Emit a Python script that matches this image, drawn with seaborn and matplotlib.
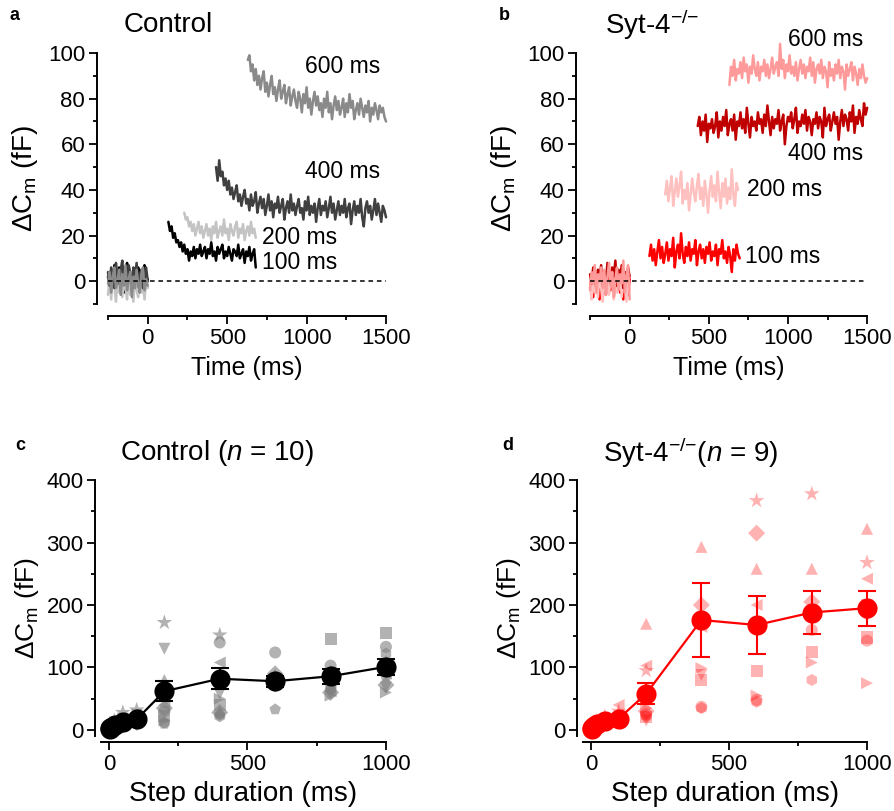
import numpy as np
import pandas as pd
import matplotlib.pyplot as plt
import seaborn as sns
from matplotlib.ticker import MultipleLocator

sns.set_style('ticks')
plt.rcParams['font.family'] = ['Liberation Sans', 'DejaVu Sans']
plt.rcParams['mathtext.fontset'] = 'custom'
plt.rcParams['mathtext.rm'] = 'Liberation Sans'
plt.rcParams['mathtext.it'] = 'Liberation Sans:italic'
plt.rcParams['mathtext.bf'] = 'Liberation Sans:bold'
for k in ['text.color', 'axes.labelcolor', 'xtick.color', 'ytick.color', 'axes.edgecolor']:
    plt.rcParams[k] = 'black'

# --- capacitance traces (fF), one sample every 10 ms ---
step_ms = 10
base_start = -250

ctrl_base = {
    '100 ms': [2, -3, 5, -1, 7, -4, 1, 6, -2, 3, -5, 4, 8, -1, 2, -6, 5, 0, -3, 6, 1, -4, 3, 7, -2, 1],
    '200 ms': [-6, 2, -8, 3, -2, -9, 1, -5, 4, -7, 0, -3, -8, 2, -6, -1, -9, 3, -4, -7, 1, -5, -2, -8, 0, -3],
    '400 ms': [4, -2, 6, 1, -3, 8, 2, -1, 5, 9, 0, 3, -2, 7, 4, -4, 6, 1, 8, -1, 3, 5, -3, 2, 6, 0],
    '600 ms': [-1, 4, -5, 2, 6, -3, 0, 5, -6, 3, -2, 7, -4, 1, 4, -7, 2, -3, 5, -1, -5, 3, 6, -4, 1, -2],
}
ctrl_start = {'100 ms': 130, '200 ms': 230, '400 ms': 430, '600 ms': 630}
ctrl_trace = {
    '100 ms': [26, 22, 24, 19, 21, 17, 18, 15, 17, 13, 16, 12, 14, 9, 13, 11, 15, 10, 14, 12, 16, 11, 13, 15,
               10, 14, 12, 17, 11, 13, 9, 15, 12, 14, 16, 10, 13, 11, 15, 12, 9, 14, 13, 11, 16, 10, 12, 14,
               8, 13, 11, 15, 9, 12, 14, 6],
    '200 ms': [30, 27, 28, 24, 26, 22, 25, 20, 23, 26, 21, 24, 19, 22, 25, 20, 23, 18, 24, 21, 26, 19, 22, 24,
               20, 27, 21, 23, 18, 25, 22, 20, 24, 26, 19, 23, 21, 25, 18, 22, 24, 20, 26, 21, 23, 19],
    '400 ms': [50, 44, 53, 46, 48, 42, 45, 40, 44, 38, 41, 36, 39, 42, 35, 38, 33, 37, 40, 34, 36, 31, 38, 33,
               35, 39, 30, 34, 37, 32, 36, 29, 33, 38, 31, 35, 28, 34, 32, 37, 30, 33, 36, 27, 32, 35, 30, 38,
               31, 34, 29, 33, 36, 30, 32, 27, 35, 31, 37, 29, 33, 30, 34, 26, 32, 36, 29, 33, 31, 35, 28, 32,
               37, 30, 34, 27, 31, 35, 29, 33, 30, 36, 28, 32, 34, 25, 31, 35, 29, 33, 30, 36, 28, 24, 32, 35,
               30, 33, 27, 31, 36, 29, 34, 30, 26, 33, 31, 28],
    '600 ms': [97, 99, 92, 95, 88, 93, 86, 90, 84, 89, 92, 83, 87, 81, 86, 90, 82, 85, 79, 84, 88, 80, 83, 86,
               78, 82, 85, 77, 81, 84, 79, 76, 83, 80, 74, 82, 78, 85, 76, 80, 73, 79, 83, 77, 81, 75, 78, 72,
               80, 76, 83, 74, 78, 71, 77, 81, 75, 79, 73, 76, 80, 72, 78, 74, 82, 76, 79, 71, 75, 78, 73, 80,
               76, 72, 77, 74, 79, 70, 76, 73, 78, 75, 71, 77, 74, 76, 72, 70],
}
ctrl_colors = {'100 ms': '#000000', '200 ms': '#c4c4c4', '400 ms': '#404040', '600 ms': '#8a8a8a'}

syt_base = {
    '100 ms': [-3, 2, -7, 1, -5, 4, -8, 0, -2, 3, -6, -1, 5, -4, 2, -7, 1, -3, 4, -5, 0, -8, 2, -2, -6, 1],
    '200 ms': [-2, -8, 3, -5, 1, -7, 4, -3, -9, 2, -4, 0, -6, 3, -1, -8, 2, -5, -3, 4, -7, 1, -2, -9, 3, -4],
    '400 ms': [3, -1, 6, 2, -3, 5, 1, 7, -2, 4, 0, 8, 3, -1, 6, 2, 9, -2, 5, 1, 7, -3, 4, 0, 6, 2],
    '600 ms': [-4, 4, -1, 7, -5, 3, 0, 6, -3, 5, -6, 2, 8, -2, 4, -7, 1, 6, -4, 3, -1, 9, -5, 2, 7, -8],
}
syt_start = {'100 ms': 125, '200 ms': 225, '400 ms': 430, '600 ms': 630}
syt_trace = {
    '100 ms': [11, 16, 9, 14, 7, 13, 18, 10, 15, 8, 12, 17, 9, 14, 11, 19, 6, 13, 16, 10, 21, 12, 8, 15, 11,
               17, 9, 14, 12, 18, 7, 13, 16, 10, 14, 8, 15, 12, 17, 9, 13, 11, 16, 7, 14, 12, 18, 10, 13, 8,
               15, 11, 4, 14, 9, 16, 12, 10],
    '200 ms': [38, 44, 35, 41, 46, 33, 39, 45, 37, 42, 48, 34, 40, 36, 43, 31, 38, 45, 39, 35, 42, 47, 36, 41,
               33, 44, 38, 30, 40, 46, 37, 42, 35, 48, 39, 32, 43, 37, 45, 34, 41, 36, 49, 38, 33, 43, 40],
    '400 ms': [68, 72, 64, 70, 66, 73, 61, 69, 67, 71, 65, 68, 74, 63, 70, 66, 72, 68, 75, 64, 69, 71, 66, 73,
               62, 70, 68, 74, 67, 71, 65, 76, 69, 63, 72, 68, 70, 66, 74, 69, 71, 65, 73, 68, 77, 70, 64, 72,
               67, 71, 69, 75, 66, 70, 73, 60, 68, 72, 70, 74, 67, 71, 76, 65, 70, 68, 73, 69, 75, 66, 72, 70,
               64, 71, 69, 74, 67, 72, 70, 63, 76, 68, 71, 73, 66, 70, 74, 69, 72, 62, 70, 75, 68, 73, 71, 66,
               74, 70, 77, 65, 72, 69, 75, 71, 68, 78, 73, 76],
    '600 ms': [86, 94, 90, 97, 88, 93, 91, 96, 89, 98, 92, 95, 87, 94, 91, 99, 93, 90, 96, 88, 94, 92, 97, 90,
               95, 89, 93, 98, 91, 94, 96, 90, 104, 93, 97, 89, 95, 92, 99, 91, 94, 90, 96, 88, 93, 97, 91, 95,
               89, 94, 92, 98, 90, 96, 87, 93, 95, 91, 97, 89, 94, 92, 85, 96, 90, 93, 88, 95, 91, 97, 89, 94,
               92, 84, 95, 90, 93, 96, 88, 94, 91, 86, 93, 89, 95, 90, 87, 89],
}
syt_colors = {'100 ms': '#ff0000', '200 ms': '#ffc0c0', '400 ms': '#c00000', '600 ms': '#ff9a9a'}

ctrl_label_pos = {'600 ms': (990, 94), '400 ms': (990, 48), '200 ms': (722, 19), '100 ms': (722, 8)}
syt_label_pos = {'600 ms': (998, 106), '400 ms': (998, 56), '200 ms': (742, 40), '100 ms': (730, 11)}

# --- step duration summary (fF) ---
durations = [2, 5, 10, 20, 50, 100, 200, 400, 600, 800, 1000]

ctrl_cells = {
    'o': [1, 3, 5, 9, 14, 18, 30, 140, 124, 103, 133],
    's': [0, 2, 4, 6, 10, 15, 22, 40, 80, 146, 155],
    '^': [2, 4, 7, 10, 16, 22, 80, 30, 88, 95, 110],
    'v': [1, 3, 6, 12, 18, 24, 130, 58, 72, 58, 68],
    'D': [0, 2, 3, 5, 8, 12, 35, 28, 90, 60, 72],
    '<': [1, 2, 5, 8, 12, 20, 40, 108, 82, 62, 90],
    '>': [0, 1, 3, 6, 9, 14, 15, 50, 75, 55, 60],
    'h': [1, 2, 4, 7, 11, 16, 12, 22, 70, 65, 122],
    '*': [2, 5, 9, 15, 28, 32, 172, 152, 85, 90, 100],
    'p': [0, 1, 2, 4, 6, 10, 10, 25, 33, 70, 85],
}
ctrl_mean = [1, 3, 5, 8, 12, 17, 62, 82, 78, 86, 101]
ctrl_sem = [0.5, 0.5, 1, 1.5, 2, 3, 16, 17, 9, 12, 13]

syt_cells = {
    'o': [1, 3, 6, 10, 14, 20, 25, 37, 48, 160, 143],
    's': [0, 2, 4, 7, 11, 16, 20, 80, 95, 125, 148],
    '^': [2, 5, 8, 13, 20, 25, 170, 293, 258, 258, 322],
    'v': [1, 3, 5, 9, 15, 18, 15, 88, 170, 175, 200],
    'D': [0, 2, 4, 8, 12, 22, 30, 200, 315, 205, 190],
    '<': [2, 4, 7, 12, 18, 40, 103, 165, 200, 190, 242],
    '>': [1, 2, 3, 6, 10, 12, 35, 99, 55, 108, 75],
    'h': [0, 1, 3, 5, 9, 14, 22, 35, 45, 80, 185],
    '*': [2, 4, 8, 14, 22, 30, 95, 180, 367, 378, 268],
}
syt_mean = [1, 3, 6, 10, 15, 18, 58, 176, 168, 188, 195]
syt_sem = [0.5, 0.5, 1, 1.5, 2, 3, 17, 60, 46, 34, 28]

fig = plt.figure(figsize=(8.94, 8.11), dpi=100)
ax_a = fig.add_axes([0.1208, 0.6252, 0.311, 0.3094])
ax_b = fig.add_axes([0.660, 0.6252, 0.310, 0.3094])
ax_c = fig.add_axes([0.1126, 0.0922, 0.3191, 0.3159])
ax_d = fig.add_axes([0.6518, 0.0922, 0.318, 0.3159])

ylab = r'$\Delta$C$_\mathrm{m}$ (fF)'


def trace_panel(ax, base, start, trace, colors, label_pos, off_left):
    frames = []
    for key in ['100 ms', '200 ms', '400 ms', '600 ms']:
        b = base[key]
        frames.append(pd.DataFrame({'t': base_start + step_ms * np.arange(len(b)), 'v': b,
                                    'seg': key + ' base', 'key': key}))
    for key in ['600 ms', '200 ms', '400 ms', '100 ms']:
        tr = trace[key]
        frames.append(pd.DataFrame({'t': start[key] + step_ms * np.arange(len(tr)), 'v': tr,
                                    'seg': key, 'key': key}))
    df = pd.concat(frames)
    for seg, sub in df.groupby('seg', sort=False):
        sns.lineplot(data=sub, x='t', y='v', color=colors[sub['key'].iloc[0]],
                     lw=1.8, estimator=None, ax=ax, legend=False, clip_on=False)
    ax.axhline(0, color='black', ls=(0, (3, 2.5)), lw=1.1, zorder=5)
    for key, (x, y) in label_pos.items():
        ax.text(x, y, key, fontsize=16.5, ha='left', va='center')
    ax.set_xlim(-250, 1500)
    ax.set_ylim(-10, 100)
    ax.xaxis.set_major_locator(MultipleLocator(500))
    ax.xaxis.set_minor_locator(MultipleLocator(250))
    ax.yaxis.set_major_locator(MultipleLocator(20))
    ax.yaxis.set_minor_locator(MultipleLocator(10))
    ax.set_xlabel('Time (ms)', fontsize=18, labelpad=5)
    ax.set_ylabel(ylab, fontsize=20, labelpad=6)
    ax.spines['left'].set_position(('outward', off_left))
    ax.spines['bottom'].set_position(('outward', 8.6))


def summary_panel(ax, cells, mean, sem, color, alpha, line_color):
    df = pd.DataFrame([(d, m, v) for m, vals in cells.items() for d, v in zip(durations, vals)],
                      columns=['dur', 'cell', 'val'])
    sizes = {m: (140 if m == '*' else 75) for m in cells}
    sns.scatterplot(data=df, x='dur', y='val', style='cell', markers={m: m for m in cells},
                    size='cell', sizes=sizes, color=color, alpha=alpha, linewidth=0,
                    legend=False, ax=ax, zorder=2, clip_on=False)
    mdf = pd.DataFrame({'dur': durations, 'mean': mean, 'sem': sem})
    eb = ax.errorbar(mdf['dur'], mdf['mean'], yerr=mdf['sem'], fmt='none', ecolor=line_color,
                     elinewidth=1.5, capsize=6.5, capthick=1.5, zorder=3)
    for art in eb.lines[1] + eb.lines[2]:
        art.set_clip_on(False)
    sns.lineplot(data=mdf, x='dur', y='mean', color=line_color, lw=1.6, marker='o', markersize=14.5,
                 markeredgewidth=0, estimator=None, ax=ax, zorder=4, clip_on=False)
    ax.set_xlim(-30, 1000)
    ax.set_ylim(-10, 400)
    ax.xaxis.set_major_locator(MultipleLocator(500))
    ax.xaxis.set_minor_locator(MultipleLocator(250))
    ax.yaxis.set_major_locator(MultipleLocator(100))
    ax.yaxis.set_minor_locator(MultipleLocator(50))
    ax.set_xlabel('Step duration (ms)', fontsize=20, labelpad=4)
    ax.set_ylabel(ylab, fontsize=19, labelpad=4)
    ax.spines['left'].set_position(('outward', 3.8))
    ax.spines['bottom'].set_position(('outward', 4.3))


trace_panel(ax_a, ctrl_base, ctrl_start, ctrl_trace, ctrl_colors, ctrl_label_pos, 7.9)
trace_panel(ax_b, syt_base, syt_start, syt_trace, syt_colors, syt_label_pos, 10)
summary_panel(ax_c, ctrl_cells, ctrl_mean, ctrl_sem, 'gray', 0.6, 'black')
summary_panel(ax_d, syt_cells, syt_mean, syt_sem, '#ff0000', 0.3, '#ff0000')

for ax in [ax_a, ax_b, ax_c, ax_d]:
    sns.despine(ax=ax)
    ax.tick_params(which='major', direction='out', length=6, width=1.3, labelsize=16, pad=2.5)
    ax.tick_params(which='minor', direction='out', length=3, width=1.3)
    for s in ['left', 'bottom']:
        ax.spines[s].set_linewidth(1.4)

sup = r'$^{{-}/{-}}$'
fig.text(0.011, 0.9815, 'a', fontsize=13, fontweight='bold', va='center')
fig.text(0.188, 0.969, 'Control', fontsize=20, ha='center', va='center')
fig.text(0.558, 0.9815, 'b', fontsize=13, fontweight='bold', va='center')
fig.text(0.677, 0.969, 'Syt-4' + sup, fontsize=20, ha='left', va='center')
fig.text(0.017, 0.451, 'c', fontsize=13, fontweight='bold', va='center')
fig.text(0.243, 0.4415, r'Control ($n$ = 10)', fontsize=20, ha='center', va='center')
fig.text(0.5615, 0.451, 'd', fontsize=13, fontweight='bold', va='center')
fig.text(0.6745, 0.4415, 'Syt-4' + sup + r'($n$ = 9)', fontsize=20, ha='left', va='center')

fig.savefig('out.png', dpi=100)
